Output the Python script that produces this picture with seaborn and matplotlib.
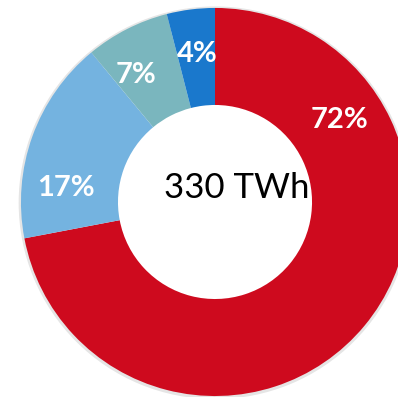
import matplotlib
matplotlib.use("Agg")
import matplotlib.pyplot as plt
import seaborn as sns
import numpy as np

# Electricity mix shares (percent) and total
categories = ["Share A", "Share B", "Share C", "Share D"]
shares = [72, 17, 7, 4]
colors = ["#CE0A1E", "#74B3E0", "#7AB6BE", "#1A78CC"]
share_labels = ["72%", "17%", "7%", "4%"]
total_label = "330 TWh"

sns.set_theme(style="white")
plt.rcParams["font.family"] = ["Lato", "DejaVu Sans"]

fig = plt.figure(figsize=(3.98, 3.97), dpi=100)
ax = fig.add_axes([0, 0, 1, 1])

# faint drop shadow along the outer rim
ax.pie([1], colors=["#000000"], radius=1.012, center=(0.0, -0.004),
       wedgeprops=dict(width=0.1, edgecolor="none", alpha=0.10))

wedges, _ = ax.pie(
    shares,
    colors=colors,
    startangle=90,
    counterclock=False,
    radius=1.0,
    wedgeprops=dict(width=0.5, edgecolor="none", linewidth=0),
)

# label placement: angle (deg) and radius inside the ring
label_angles = [33.5, 174.6, 122.0, 97.0]
label_radius = 0.77
for text, ang in zip(share_labels, label_angles):
    a = np.deg2rad(ang)
    ax.text(label_radius * np.cos(a), label_radius * np.sin(a), text,
            ha="center", va="center", color="white",
            fontsize=21, fontweight="bold")

ax.text(0.11, 0.07, total_label, ha="center", va="center",
        color="black", fontsize=25)

ax.set_xlim(-1.108, 0.943)
ax.set_ylim(-1.005, 1.041)
ax.set_aspect("auto")
ax.axis("off")

fig.savefig("out.png", dpi=100)
